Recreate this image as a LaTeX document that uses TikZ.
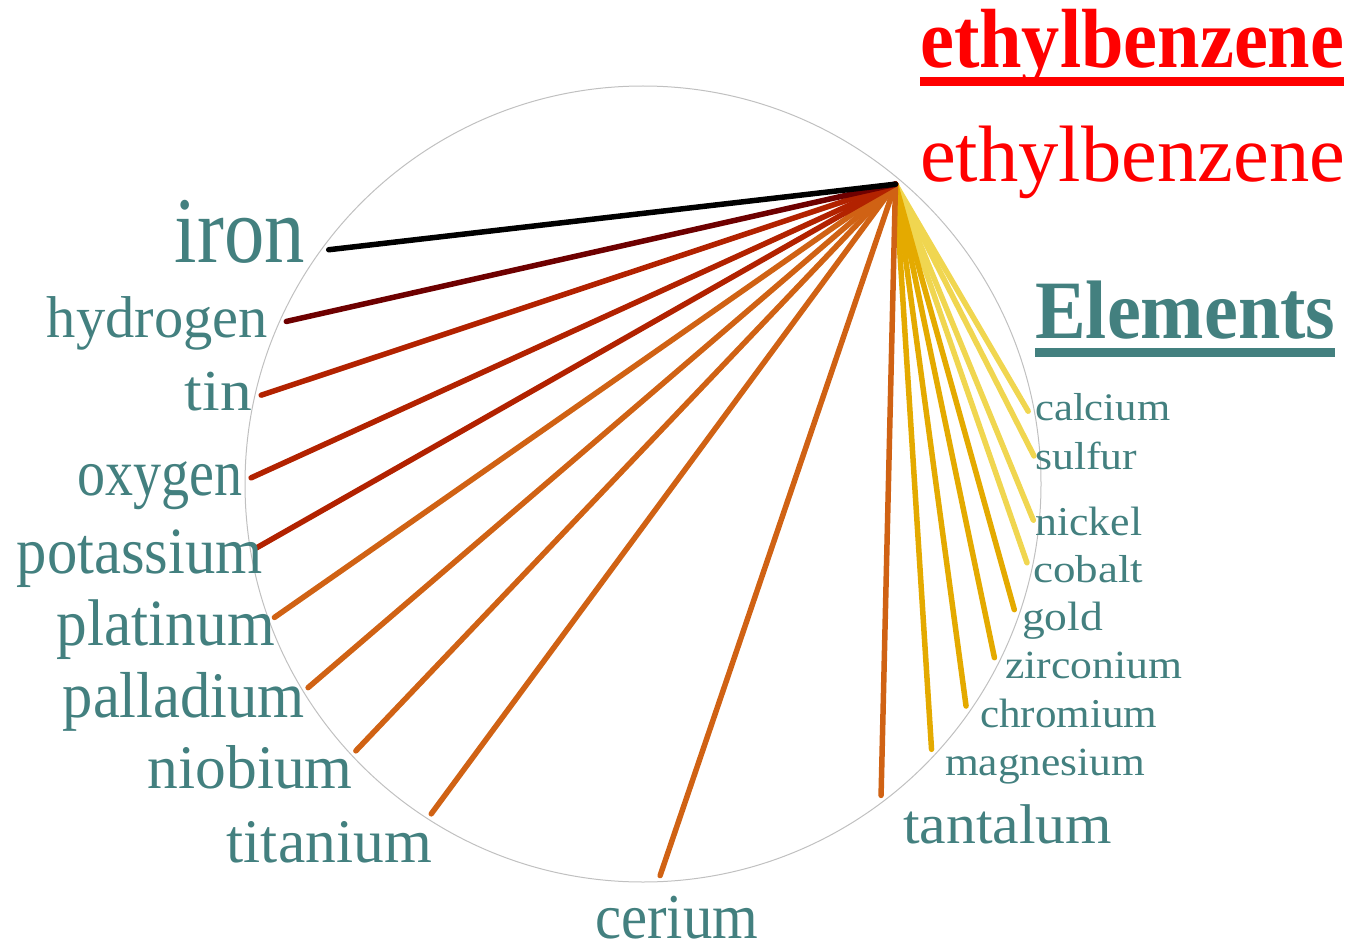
\documentclass[tikz,border=0pt]{standalone}
\usepackage{fontspec}
\setmainfont{Liberation Serif}
\usepackage{graphicx}
\definecolor{elteal}{RGB}{67,128,127}
\definecolor{elred}{RGB}{255,0,0}
\definecolor{ringgray}{RGB}{192,192,192}
\definecolor{lndark}{RGB}{110,0,0}
\definecolor{lnred}{RGB}{178,34,0}
\definecolor{lnorange}{RGB}{208,98,20}
\definecolor{lngold}{RGB}{228,170,0}
\definecolor{lnyellow}{RGB}{240,214,80}

\begin{document}
\begin{tikzpicture}[x=1pt, y=-1pt,
  elem/.style={inner sep=0pt, text=elteal},
  ttl/.style={inner sep=0pt, anchor=base west},
  spoke/.style={line width=5.5pt, line cap=round},
  ring/.style={draw=ringgray, line width=1pt}
]
\useasboundingbox (0,0) rectangle (1354,944);

% Circle and hub
\coordinate (ctr) at (643,484);
\draw[ring] (ctr) circle[radius=398];
\path (ctr) ++(-49.9:392) coordinate (hub);

% Spokes
\foreach \n/\a/\c in {calcium/10.7/lnyellow, sulfur/4.1/lnyellow, nickel/-5.3/lnyellow,
    cobalt/-11.6/lnyellow, gold/-18.7/lngold, zirconium/-26.3/lngold,
    chromium/-34.5/lngold, magnesium/-42.6/lngold, tantalum/-52.6/lnorange,
    cerium/-87.5/lnorange, titanium/-122.7/lnorange, niobium/-137.1/lnorange,
    palladium/-148.7/lnorange, platinum/-160.1/lnorange, potassium/-170.6/lnred,
    oxygen/179.1/lnred, tin/166.9/lnred, hydrogen/155.5/lndark, iron/143.3/black}{
  \path (ctr) ++({-\a}:392) coordinate (e-\n);
  \draw[spoke, draw=\c] (hub) -- (e-\n);
}

% Titles
\node[ttl, text=elred, font=\bfseries\fontsize{84}{84}\selectfont] (ttl-bold) at (920,68)
  {\resizebox{424pt}{\height}{ethylbenzene}};
\fill[elred] ([yshift=-9pt]ttl-bold.base west) rectangle ([yshift=-18pt]ttl-bold.base east);
\node[ttl, text=elred, font=\fontsize{80}{80}\selectfont] (ttl-reg) at (920,182)
  {\resizebox{425pt}{\height}{ethylbenzene}};
\node[ttl, text=elteal, font=\bfseries\fontsize{83}{83}\selectfont] (ttl-elem) at (1035,338)
  {\resizebox{300pt}{\height}{Elements}};
\fill[elteal] ([yshift=-10pt]ttl-elem.base west) rectangle ([yshift=-19pt]ttl-elem.base east);

% Left labels
\node[elem, anchor=base east, font=\fontsize{94}{94}\selectfont] (l-iron) at (305,262) {\resizebox{130pt}{\height}{iron}};
\node[elem, anchor=base east, font=\fontsize{59}{59}\selectfont] (l-hydrogen) at (268,337) {\resizebox{221pt}{\height}{hydrogen}};
\node[elem, anchor=base east, font=\fontsize{58}{58}\selectfont] (l-tin) at (252,410) {\resizebox{67pt}{\height}{tin}};
\node[elem, anchor=base east, font=\fontsize{66}{66}\selectfont] (l-oxygen) at (243,495) {\resizebox{165pt}{\height}{oxygen}};
\node[elem, anchor=base east, font=\fontsize{66}{66}\selectfont] (l-potassium) at (263,573) {\resizebox{246pt}{\height}{potassium}};
\node[elem, anchor=base east, font=\fontsize{66}{66}\selectfont] (l-platinum) at (275,645) {\resizebox{218pt}{\height}{platinum}};
\node[elem, anchor=base east, font=\fontsize{65}{65}\selectfont] (l-palladium) at (305,717) {\resizebox{242pt}{\height}{palladium}};
\node[elem, anchor=base east, font=\fontsize{62}{62}\selectfont] (l-niobium) at (353,788) {\resizebox{205pt}{\height}{niobium}};
\node[elem, anchor=base east, font=\fontsize{62}{62}\selectfont] (l-titanium) at (432,862) {\resizebox{205pt}{\height}{titanium}};

% Bottom and right labels
\node[elem, anchor=base west, font=\fontsize{64}{64}\selectfont] (l-cerium) at (595,938) {\resizebox{163pt}{\height}{cerium}};
\node[elem, anchor=base west, font=\fontsize{56}{56}\selectfont] (l-tantalum) at (903,843) {\resizebox{209pt}{\height}{tantalum}};
\node[elem, anchor=base west, font=\fontsize{40}{40}\selectfont] (l-magnesium) at (945,775) {\resizebox{200pt}{\height}{magnesium}};
\node[elem, anchor=base west, font=\fontsize{41}{41}\selectfont] (l-chromium) at (980,727) {\resizebox{177pt}{\height}{chromium}};
\node[elem, anchor=base west, font=\fontsize{40}{40}\selectfont] (l-zirconium) at (1005,678) {\resizebox{177pt}{\height}{zirconium}};
\node[elem, anchor=base west, font=\fontsize{41}{41}\selectfont] (l-gold) at (1022,630) {\resizebox{81pt}{\height}{gold}};
\node[elem, anchor=base west, font=\fontsize{39}{39}\selectfont] (l-cobalt) at (1033,582) {\resizebox{110pt}{\height}{cobalt}};
\node[elem, anchor=base west, font=\fontsize{41}{41}\selectfont] (l-nickel) at (1035,535) {\resizebox{107pt}{\height}{nickel}};
\node[elem, anchor=base west, font=\fontsize{39}{39}\selectfont] (l-sulfur) at (1035,469) {\resizebox{102pt}{\height}{sulfur}};
\node[elem, anchor=base west, font=\fontsize{39}{39}\selectfont] (l-calcium) at (1035,420) {\resizebox{135pt}{\height}{calcium}};
\end{tikzpicture}
\end{document}
